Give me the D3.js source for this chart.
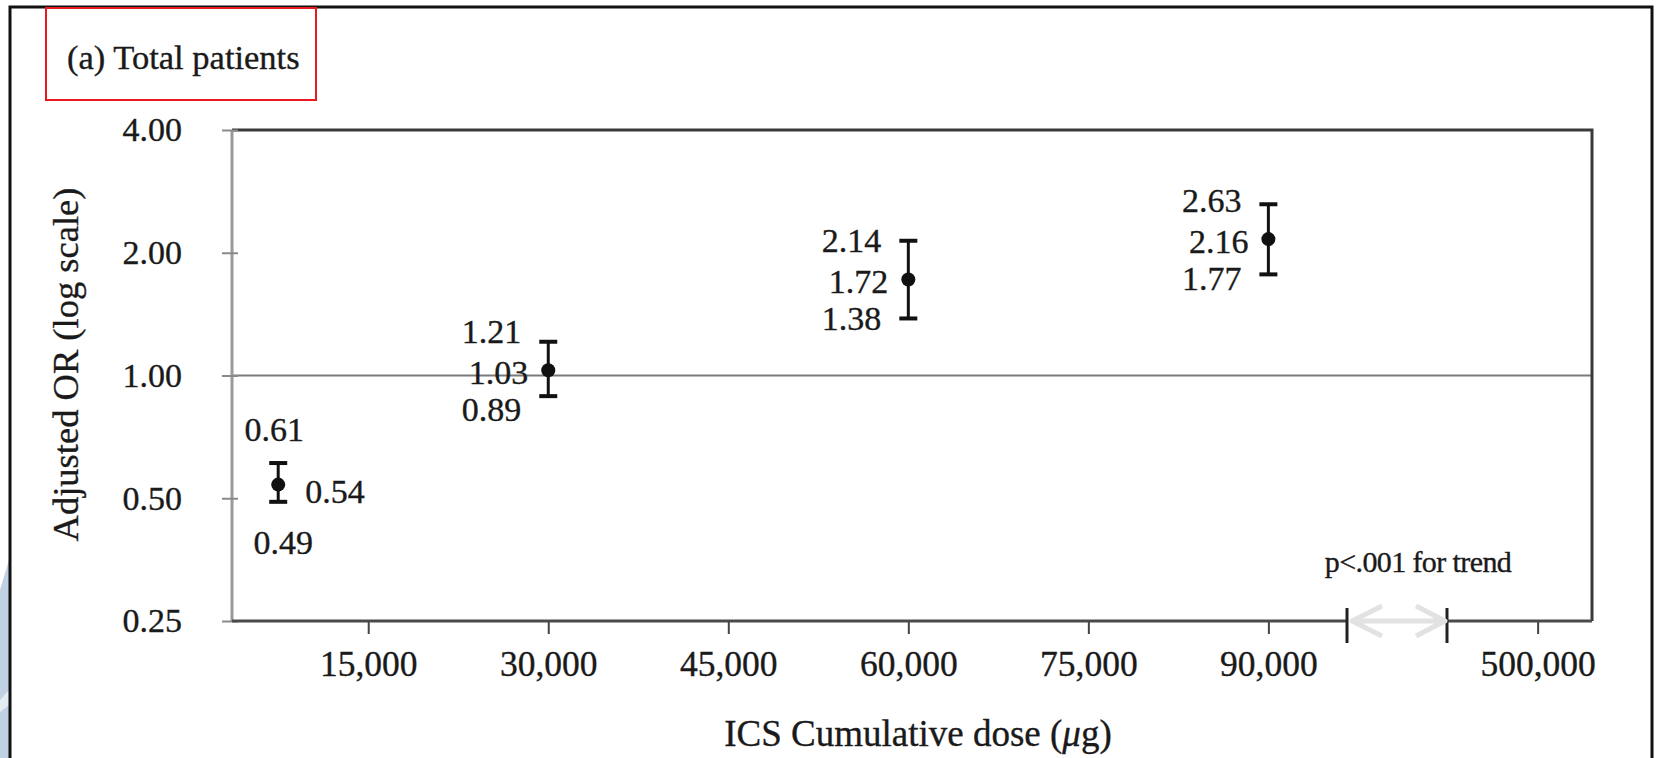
<!DOCTYPE html>
<html>
<head>
<meta charset="utf-8">
<script src="https://cdn.jsdelivr.net/npm/d3@7"></script>
<style>
  html, body { margin: 0; padding: 0; background: #fff; }
  svg text {
    font-family: "Liberation Serif", "Times New Roman", serif;
    fill: #1a1a1a;
    stroke: #1a1a1a;
    stroke-width: 0.35px;
  }
</style>
</head>
<body>
<div id="chart"></div>
<script>
// ICS cumulative dose groups (ug) and adjusted odds ratios
const doses = [7500, 30000, 60000, 90000];
const estimates = [0.54, 1.03, 1.72, 2.16];
const lowers = [0.49, 0.89, 1.38, 1.77];
const uppers = [0.61, 1.21, 2.14, 2.63];

const xTicks = [15000, 30000, 45000, 60000, 75000, 90000, 500000];
const yTicks = [0.25, 0.5, 1, 2, 4];
// axis break between these two values
const xBreak = [96550, 440000];

const titleText = "(a) Total patients";
const yTitle = "Adjusted OR (log scale)";
const trendText = "p<.001 for trend";

class ForestChart {
  constructor(_config) {
    this.config = {
      parentElement: _config.parentElement,
      containerWidth: 1656,
      containerHeight: 758,
      margin: { top: 130, right: 64, bottom: 137, left: 232 }
    };
    this.data = doses.map((d, i) => ({
      dose: d, est: estimates[i], lo: lowers[i], hi: uppers[i]
    }));
    this.initVis();
  }

  initVis() {
    let vis = this;
    const m = vis.config.margin;
    vis.width = vis.config.containerWidth - m.left - m.right;
    vis.height = vis.config.containerHeight - m.top - m.bottom;

    vis.svg = d3.select(vis.config.parentElement).append('svg')
      .attr('width', vis.config.containerWidth)
      .attr('height', vis.config.containerHeight);

    // little blue decoration at the left page edge
    vis.svg.append('path')
      .attr('d', 'M0,590 L9,560 L9,758 L0,758 Z')
      .attr('fill', '#bfd1e2');
    vis.svg.append('path')
      .attr('d', 'M0,700 L9,690 L9,705 L0,712 Z')
      .attr('fill', '#e4ecf4');

    // outer frame (open at bottom)
    vis.svg.append('path')
      .attr('d', 'M10,760 L10,7 L1652,7 L1652,760')
      .attr('fill', 'none')
      .attr('stroke', '#111')
      .attr('stroke-width', 3);

    // red title box
    vis.svg.append('rect')
      .attr('x', 46).attr('y', 8)
      .attr('width', 270).attr('height', 92)
      .attr('fill', 'none')
      .attr('stroke', '#e8191f')
      .attr('stroke-width', 2);
    vis.svg.append('text')
      .attr('x', 67).attr('y', 69)
      .attr('font-size', 34.5)
      .text(titleText);

    vis.chart = vis.svg.append('g')
      .attr('transform', `translate(${m.left},${m.top})`);

    // piecewise x scale with a broken segment
    vis.x = d3.scaleLinear()
      .domain([3650, xBreak[0], xBreak[1], 536000])
      .range([0, 1115, 1215, vis.width]);

    vis.y = d3.scaleLog().base(2)
      .domain([0.25, 4])
      .range([vis.height, 0]);

    vis.renderVis();
  }

  renderVis() {
    let vis = this;
    const x = vis.x, y = vis.y, h = vis.height, w = vis.width;
    const bx0 = x(xBreak[0]), bx1 = x(xBreak[1]);

    // reference line at OR = 1
    vis.chart.append('line')
      .attr('x1', 0).attr('x2', w)
      .attr('y1', y(1)).attr('y2', y(1))
      .attr('stroke', '#7a7a7a')
      .attr('stroke-width', 2);

    // top and right border
    vis.chart.append('path')
      .attr('d', `M0,0 L${w},0 L${w},${h}`)
      .attr('fill', 'none')
      .attr('stroke', '#3a3a3a')
      .attr('stroke-width', 3);

    // y axis
    const yAxis = d3.axisLeft(y)
      .tickValues(yTicks)
      .tickFormat(d3.format('.2f'))
      .tickSize(10)
      .tickPadding(40);
    const yG = vis.chart.append('g').call(yAxis);
    yG.select('.domain')
      .attr('stroke', '#9a9a9a')
      .attr('stroke-width', 3)
      .attr('d', `M0,0 V${h}`);
    yG.selectAll('.tick line')
      .attr('x1', 6)
      .attr('stroke', '#8a8a8a')
      .attr('stroke-width', 2);
    yG.selectAll('.tick text')
      .attr('font-size', 34)
      .attr('fill', '#1a1a1a');

    // x axis: ticks and labels from the axis generator, line drawn in two parts
    const xAxis = d3.axisBottom(x)
      .tickValues(xTicks)
      .tickFormat(d3.format(','))
      .tickSize(13)
      .tickPadding(17);
    const xG = vis.chart.append('g')
      .attr('transform', `translate(0,${h})`)
      .call(xAxis);
    xG.select('.domain').remove();
    xG.selectAll('.tick line')
      .attr('stroke', '#444')
      .attr('stroke-width', 2);
    xG.selectAll('.tick text')
      .attr('font-size', 35.5)
      .attr('fill', '#1a1a1a');

    const axisSegs = [[0, bx0], [bx1, w]];
    vis.chart.selectAll('.x-seg')
      .data(axisSegs)
      .join('line')
      .attr('class', 'x-seg')
      .attr('x1', d => d[0]).attr('x2', d => d[1])
      .attr('y1', h).attr('y2', h)
      .attr('stroke', '#4a4a4a')
      .attr('stroke-width', 3);

    // break ticks
    vis.chart.selectAll('.break-tick')
      .data([bx0, bx1])
      .join('line')
      .attr('class', 'break-tick')
      .attr('x1', d => d).attr('x2', d => d)
      .attr('y1', h - 13).attr('y2', h + 22)
      .attr('stroke', '#222')
      .attr('stroke-width', 3);

    // light double arrow over the break
    const a0 = bx0 + 5, a1 = bx1 - 2;
    vis.chart.append('path')
      .attr('d', `M${a0},${h} L${a1},${h}
                  M${a0 + 30},${h - 15} L${a0},${h} L${a0 + 30},${h + 15}
                  M${a1 - 29},${h - 15} L${a1},${h} L${a1 - 29},${h + 15}`)
      .attr('fill', 'none')
      .attr('stroke', '#e2e2e2')
      .attr('stroke-width', 5)
      .attr('stroke-linejoin', 'round');

    vis.chart.append('text')
      .attr('x', (bx0 + bx1) / 2 + 21)
      .attr('y', h - 49)
      .attr('text-anchor', 'middle')
      .attr('font-size', 30)
      .attr('letter-spacing', -0.6)
      .text(trendText);

    // axis titles
    vis.chart.append('text')
      .attr('x', w / 2 + 6)
      .attr('y', h + 125)
      .attr('text-anchor', 'middle')
      .attr('font-size', 37)
      .call(t => {
        t.append('tspan').text('ICS Cumulative dose (');
        t.append('tspan').attr('font-style', 'italic').text('\u03bc');
        t.append('tspan').text('g)');
      });

    vis.chart.append('text')
      .attr('transform', `translate(-167,${h / 2 - 11}) rotate(-90)`)
      .attr('text-anchor', 'middle')
      .attr('dy', '0.35em')
      .attr('font-size', 36.5)
      .text(yTitle);

    // error bars
    const bars = vis.chart.selectAll('.bar')
      .data(vis.data)
      .join('g')
      .attr('class', 'bar');

    bars.append('line')
      .attr('x1', d => x(d.dose)).attr('x2', d => x(d.dose))
      .attr('y1', d => y(d.hi)).attr('y2', d => y(d.lo))
      .attr('stroke', '#111')
      .attr('stroke-width', 3);

    bars.selectAll('.cap')
      .data(d => [{ dose: d.dose, v: d.hi }, { dose: d.dose, v: d.lo }])
      .join('line')
      .attr('class', 'cap')
      .attr('x1', d => x(d.dose) - 9).attr('x2', d => x(d.dose) + 9)
      .attr('y1', d => y(d.v)).attr('y2', d => y(d.v))
      .attr('stroke', '#111')
      .attr('stroke-width', 4);

    bars.append('circle')
      .attr('cx', d => x(d.dose))
      .attr('cy', d => y(d.est))
      .attr('r', 7)
      .attr('fill', '#111');

    // value labels
    const fmt = d3.format('.2f');
    const labelData = [];
    vis.data.forEach((d, i) => {
      const px = x(d.dose), py = y(d.est);
      if (i === 0) {
        labelData.push({ x: px - 4, y: y(d.hi) - 34, anchor: 'middle', t: fmt(d.hi) });
        labelData.push({ x: px + 27, y: py + 6, anchor: 'start', t: fmt(d.est) });
        labelData.push({ x: px + 5, y: y(d.lo) + 40, anchor: 'middle', t: fmt(d.lo) });
      } else {
        labelData.push({ x: px - 27, y: Math.min(y(d.hi), py - 39), anchor: 'end', t: fmt(d.hi) });
        labelData.push({ x: px - 20, y: py + 2, anchor: 'end', t: fmt(d.est) });
        labelData.push({ x: px - 27, y: Math.max(y(d.lo), py + 39), anchor: 'end', t: fmt(d.lo) });
      }
    });

    vis.chart.selectAll('.val-label')
      .data(labelData)
      .join('text')
      .attr('class', 'val-label')
      .attr('x', d => d.x)
      .attr('y', d => d.y)
      .attr('dy', '0.35em')
      .attr('text-anchor', d => d.anchor)
      .attr('font-size', 34)
      .text(d => d.t);
  }
}

new ForestChart({ parentElement: '#chart' });
</script>
</body>
</html>
